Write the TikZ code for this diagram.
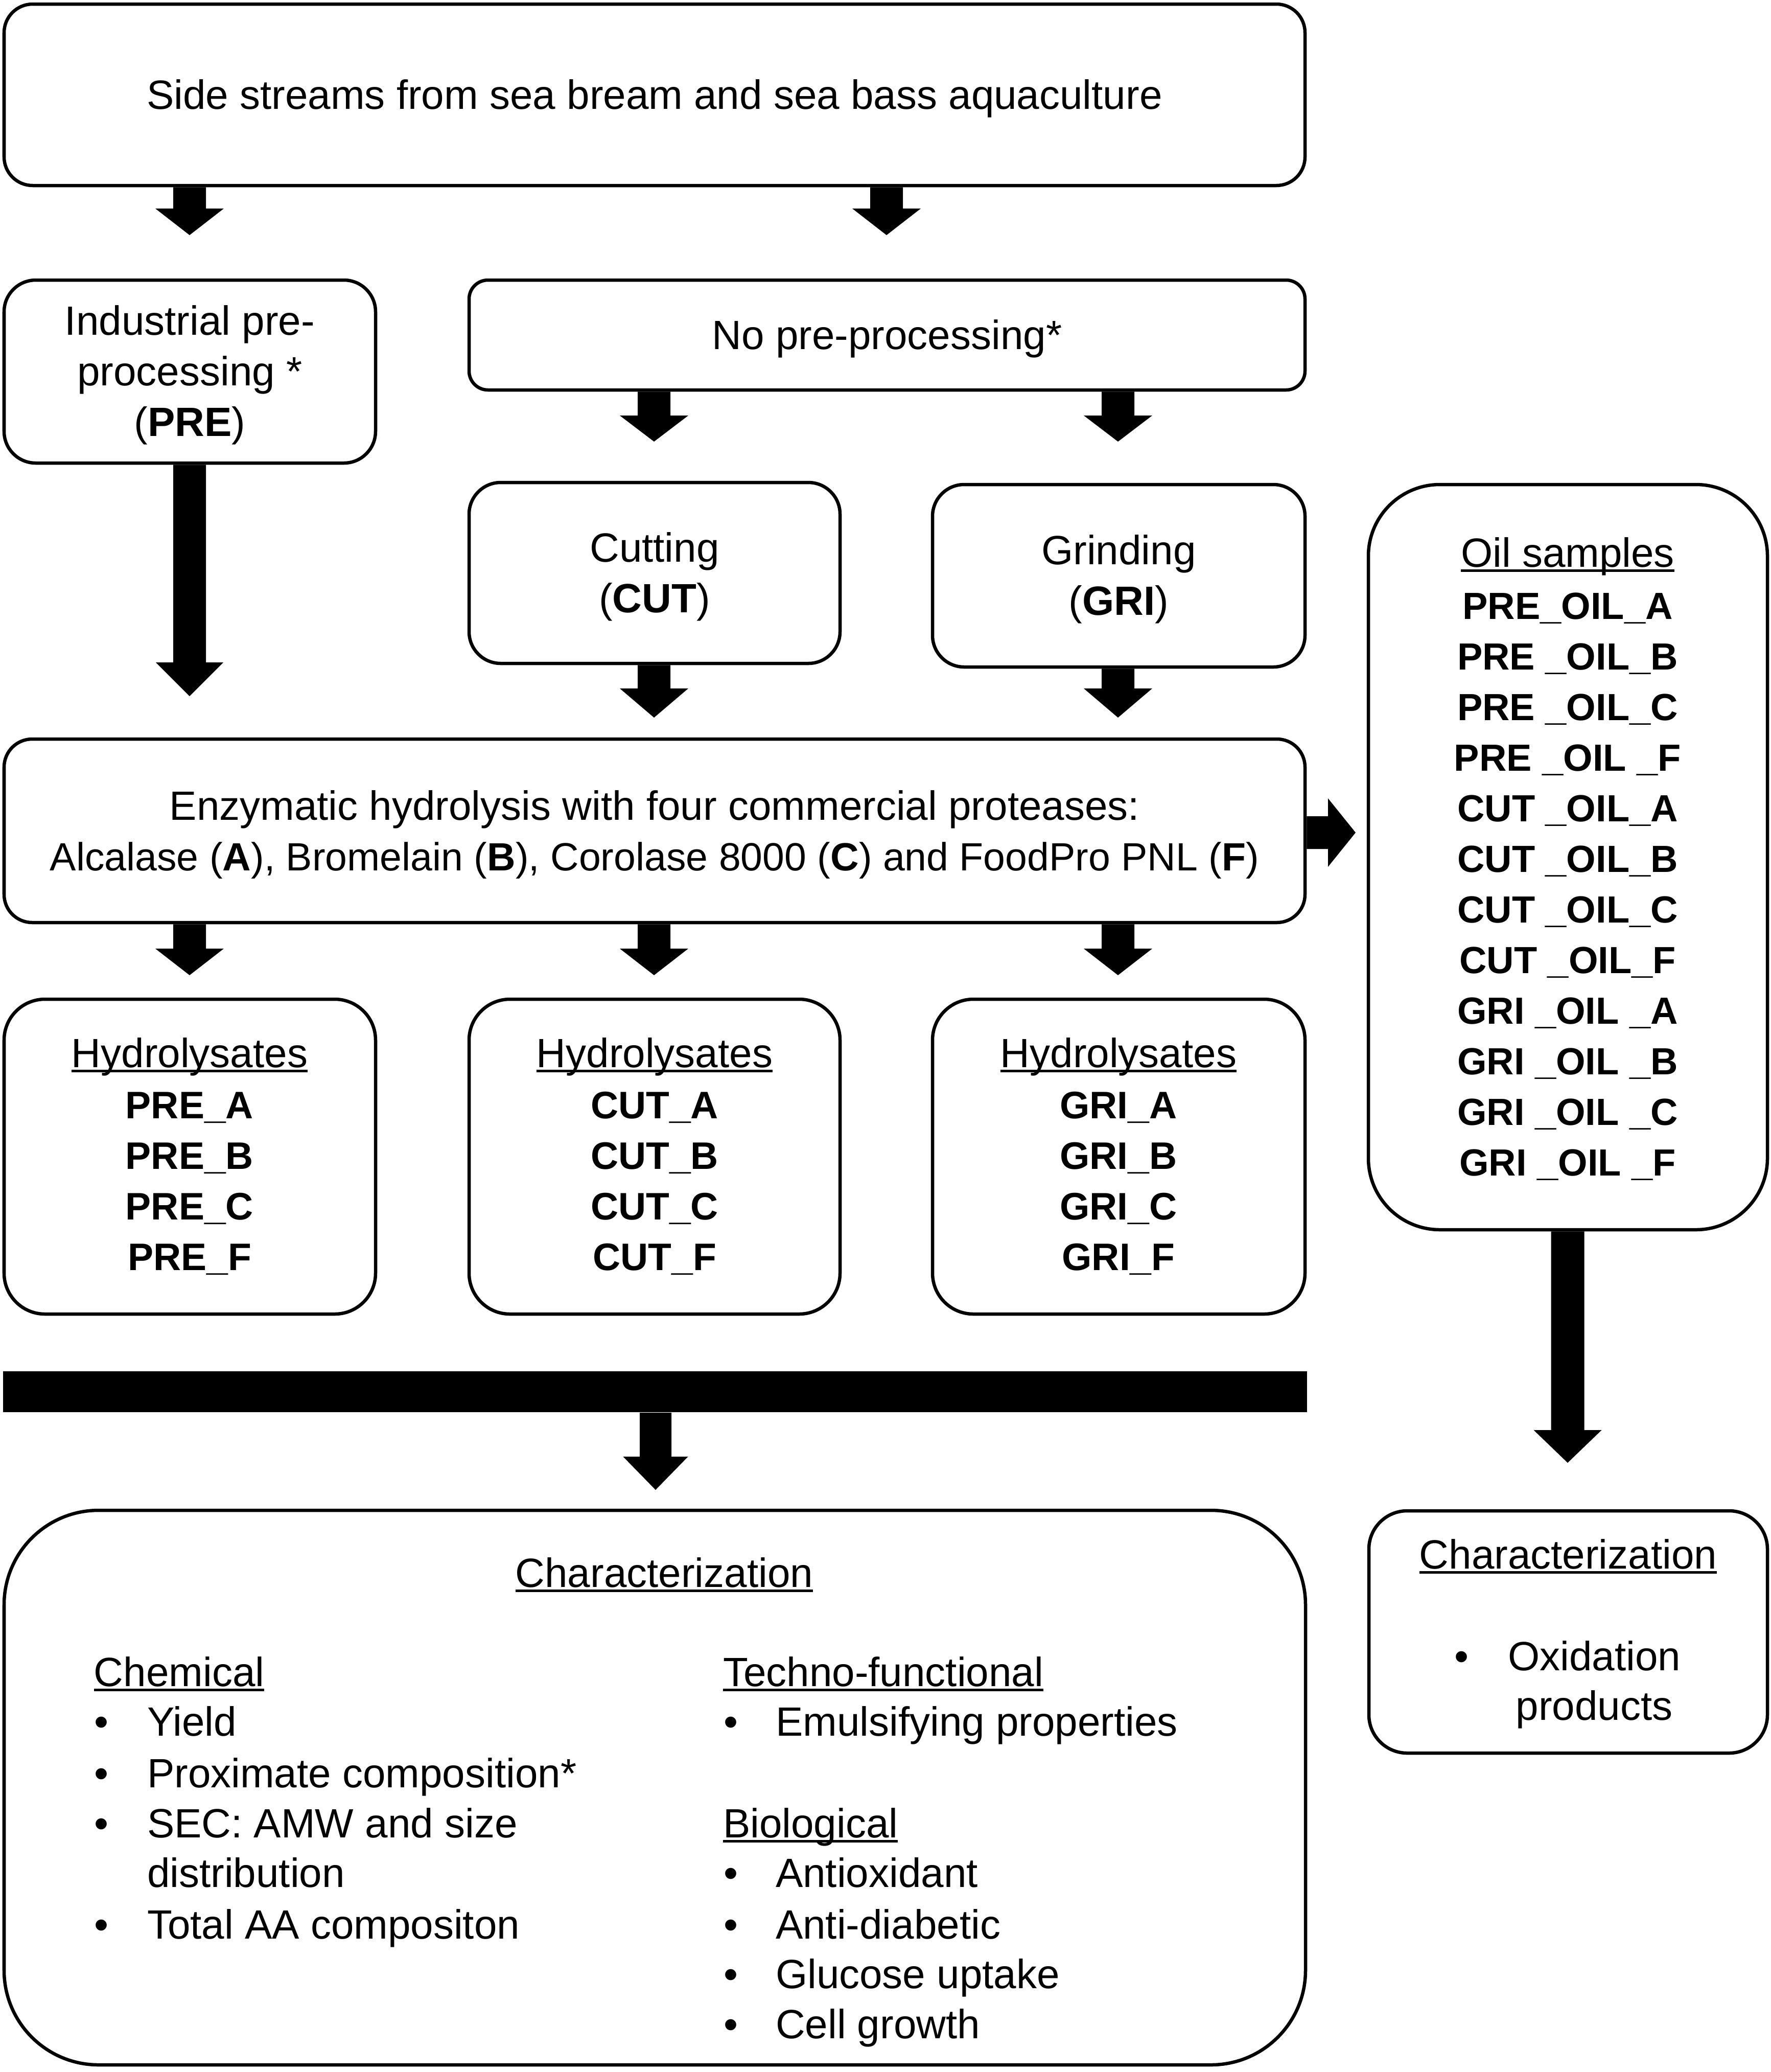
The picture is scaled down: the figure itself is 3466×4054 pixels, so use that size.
\documentclass[tikz,border=0pt]{standalone}
\usepackage{fontspec}
\setmainfont{Liberation Sans}
\usetikzlibrary{fit,calc}
\newcommand\fs{\fontsize{16pt}{19.8pt}\selectfont}
\newcommand\fsb{\fontsize{15pt}{19.8pt}\selectfont\bfseries}
\newcommand\fso{\fontsize{14.8pt}{19.8pt}\selectfont\bfseries}
\newcommand\myul[1]{\setbox0\hbox{#1}\rlap{\rule[-0.12em]{\wd0}{0.055em}}\box0}
% vertical block arrow: start, tip, half shaft, half head, head length
\newcommand\barrowV[5]{%
  \fill let \p1=(#1), \p2=(#2) in
    (\x2-#3,\y1) -- (\x2+#3,\y1) -- (\x2+#3,\y2+#5) -- (\x2+#4,\y2+#5) -- (\x2,\y2)
    -- (\x2-#4,\y2+#5) -- (\x2-#3,\y2+#5) -- cycle;}
% horizontal block arrow (to the right)
\newcommand\barrowH[5]{%
  \fill let \p1=(#1), \p2=(#2) in
    (\x1,\y2+#3) -- (\x2-#5,\y2+#3) -- (\x2-#5,\y2+#4) -- (\x2,\y2)
    -- (\x2-#5,\y2-#4) -- (\x2-#5,\y2-#3) -- (\x1,\y2-#3) -- cycle;}
\tikzset{
  box/.style={draw, line width=1.3pt, inner sep=0pt, fill=white},
  ctr/.style={inner sep=0pt, font=\fs, align=center, anchor=center, yshift=-1.4pt},
  txt/.style={inner sep=0pt, font=\fs, anchor=base},
  txtl/.style={inner sep=0pt, font=\fs, anchor=base west},
  idb/.style={inner sep=0pt, font=\fsb, anchor=base},
  ido/.style={inner sep=0pt, font=\fso, anchor=base},
}
\begin{document}
\begin{tikzpicture}[x=0.2pt, y=-0.2pt]
\useasboundingbox (0,0) rectangle (3466,4054);
\fill[white] (0,0) rectangle (3466,4054);

% boxes
\node[box, rounded corners=11.2pt, fit={(8,8) (2554,363)}] (top) {};
\node[box, rounded corners=12.4pt, fit={(8,548) (735,906)}] (pre) {};
\node[box, rounded corners=7.4pt, fit={(918,548) (2554,763)}] (nopre) {};
\node[box, rounded corners=12.4pt, fit={(918,944) (1644,1298)}] (cut) {};
\node[box, rounded corners=12.4pt, fit={(1825,948) (2554,1305)}] (gri) {};
\node[box, rounded corners=11pt, fit={(8,1446) (2554,1805)}] (enz) {};
\node[box, rounded corners=16pt, fit={(8,1955) (735,2571)}] (hpre) {};
\node[box, rounded corners=16pt, fit={(918,1955) (1644,2571)}] (hcut) {};
\node[box, rounded corners=16pt, fit={(1825,1955) (2554,2571)}] (hgri) {};
\node[box, rounded corners=28pt, fit={(2678,948) (3459,2406)}] (oil) {};
\node[fill=black, inner sep=0pt, fit={(6,2683) (2558,2763)}] (bar) {};
\node[box, rounded corners=37pt, fit={(8,2955) (2555,4040)}] (char) {};
\node[box, rounded corners=15pt, fit={(2679,2956) (3459,3430)}] (charoil) {};

% box texts
\node[ctr] (topt) at (top.center) {Side streams from sea bream and sea bass aquaculture};
\node[ctr] (pret) at (pre.center) {Industrial pre-\\processing *\\(\textbf{PRE})};
\node[ctr] (nopret) at (nopre.center) {No pre-processing*};
\node[ctr] (cutt) at (cut.center) {Cutting\\(\textbf{CUT})};
\node[ctr] (grit) at (gri.center) {Grinding\\(\textbf{GRI})};
\node[ctr] (enzt) at (enz.center) {Enzymatic hydrolysis with four commercial proteases:\\
  {\fontsize{15.4pt}{19.8pt}\selectfont Alcalase (\textbf{A}), Bromelain (\textbf{B}), Corolase 8000 (\textbf{C}) and FoodPro PNL (\textbf{F})}};

% hydrolysate lists
\foreach \c/\p in {371/PRE, 1281/CUT, 2189/GRI}{
  \node[txt] (h\p) at (\c,2088) {\myul{Hydrolysates}};
  \foreach \e [count=\k from 0] in {A,B,C,F}{
    \node[idb] (h\p\e) at (\c,2188+99*\k) {\p\_\e};
  }
}

% oil list
\node[txt] (oilt) at (3068,1109) {\myul{Oil samples}};
\foreach \t [count=\k from 0] in {PRE\_OIL\_A, PRE \_OIL\_B, PRE \_OIL\_C, PRE \_OIL \_F,
  CUT \_OIL\_A, CUT \_OIL\_B, CUT \_OIL\_C, CUT \_OIL\_F,
  GRI \_OIL \_A, GRI \_OIL \_B, GRI \_OIL \_C, GRI \_OIL \_F}{
  \node[ido] (o\k) at (3068,1211+99*\k) {\t};
}

% characterization (hydrolysates)
\node[txt] (cht) at (1300,3105) {\myul{Characterization}};
\node[txtl] (chem) at (183,3299) {\myul{Chemical}};
\foreach \t/\yy [count=\k] in {Yield/3396, Proximate composition*/3497, SEC: AMW and size/3595, Total AA compositon/3793}{
  \node[txt] (cb\k) at (199,\yy) {•};
  \node[txtl] (ct\k) at (287,\yy) {\t};
}
\node[txtl] (ctd) at (287,3692) {distribution};
\node[txtl] (tech) at (1414,3299) {\myul{Techno-functional}};
\node[txt] (tb1) at (1430,3396) {•};
\node[txtl] (tt1) at (1517,3396) {Emulsifying properties};
\node[txtl] (bio) at (1414,3595) {\myul{Biological}};
\foreach \t/\yy [count=\k] in {Antioxidant/3692, Anti-diabetic/3793, Glucose uptake/3890, Cell growth/3988}{
  \node[txt] (bb\k) at (1430,\yy) {•};
  \node[txtl] (bt\k) at (1517,\yy) {\t};
}

% characterization (oil)
\node[txt] (cot) at (3069,3069) {\myul{Characterization}};
\node[txt] (cob) at (2860,3268) {•};
\node[txt] (cox) at (3120,3268) {Oxidation};
\node[txt] (cop) at (3120,3365) {products};

% arrow tips
\coordinate (t1) at (371,460);
\coordinate (t2) at (1735,460);
\coordinate (t3) at (371,1362);
\coordinate (t4) at (1280,864);
\coordinate (t5) at (2188,864);
\coordinate (t6) at (1280,1404);
\coordinate (t7) at (2188,1404);
\coordinate (t8) at (371,1908);
\coordinate (t9) at (1280,1908);
\coordinate (t10) at (2188,1908);
\coordinate (t11) at (2653,1629);
\coordinate (t12) at (1283,2915);
\coordinate (t13) at (3068,2862);

% block arrows
\barrowV{top.south -| t1}{t1}{6.4pt}{13.4pt}{10.4pt}
\barrowV{top.south -| t2}{t2}{6.4pt}{13.4pt}{10.4pt}
\barrowV{pre.south -| t3}{t3}{6.4pt}{13.2pt}{13.2pt}
\barrowV{nopre.south -| t4}{t4}{6.4pt}{13.4pt}{10.2pt}
\barrowV{nopre.south -| t5}{t5}{6.4pt}{13.4pt}{10.2pt}
\barrowV{cut.south -| t6}{t6}{6.4pt}{13.4pt}{11.4pt}
\barrowV{gri.south -| t7}{t7}{6.4pt}{13.4pt}{11.4pt}
\barrowV{enz.south -| t8}{t8}{6.4pt}{13.4pt}{10.4pt}
\barrowV{enz.south -| t9}{t9}{6.4pt}{13.4pt}{10.4pt}
\barrowV{enz.south -| t10}{t10}{6.4pt}{13.4pt}{10.4pt}
\barrowH{enz.east |- t11}{t11}{6.4pt}{13.4pt}{10.8pt}
\barrowV{bar.south -| t12}{t12}{6.2pt}{12.7pt}{13pt}
\barrowV{oil.south -| t13}{t13}{6.5pt}{13.3pt}{12.8pt}
\end{tikzpicture}
\end{document}
